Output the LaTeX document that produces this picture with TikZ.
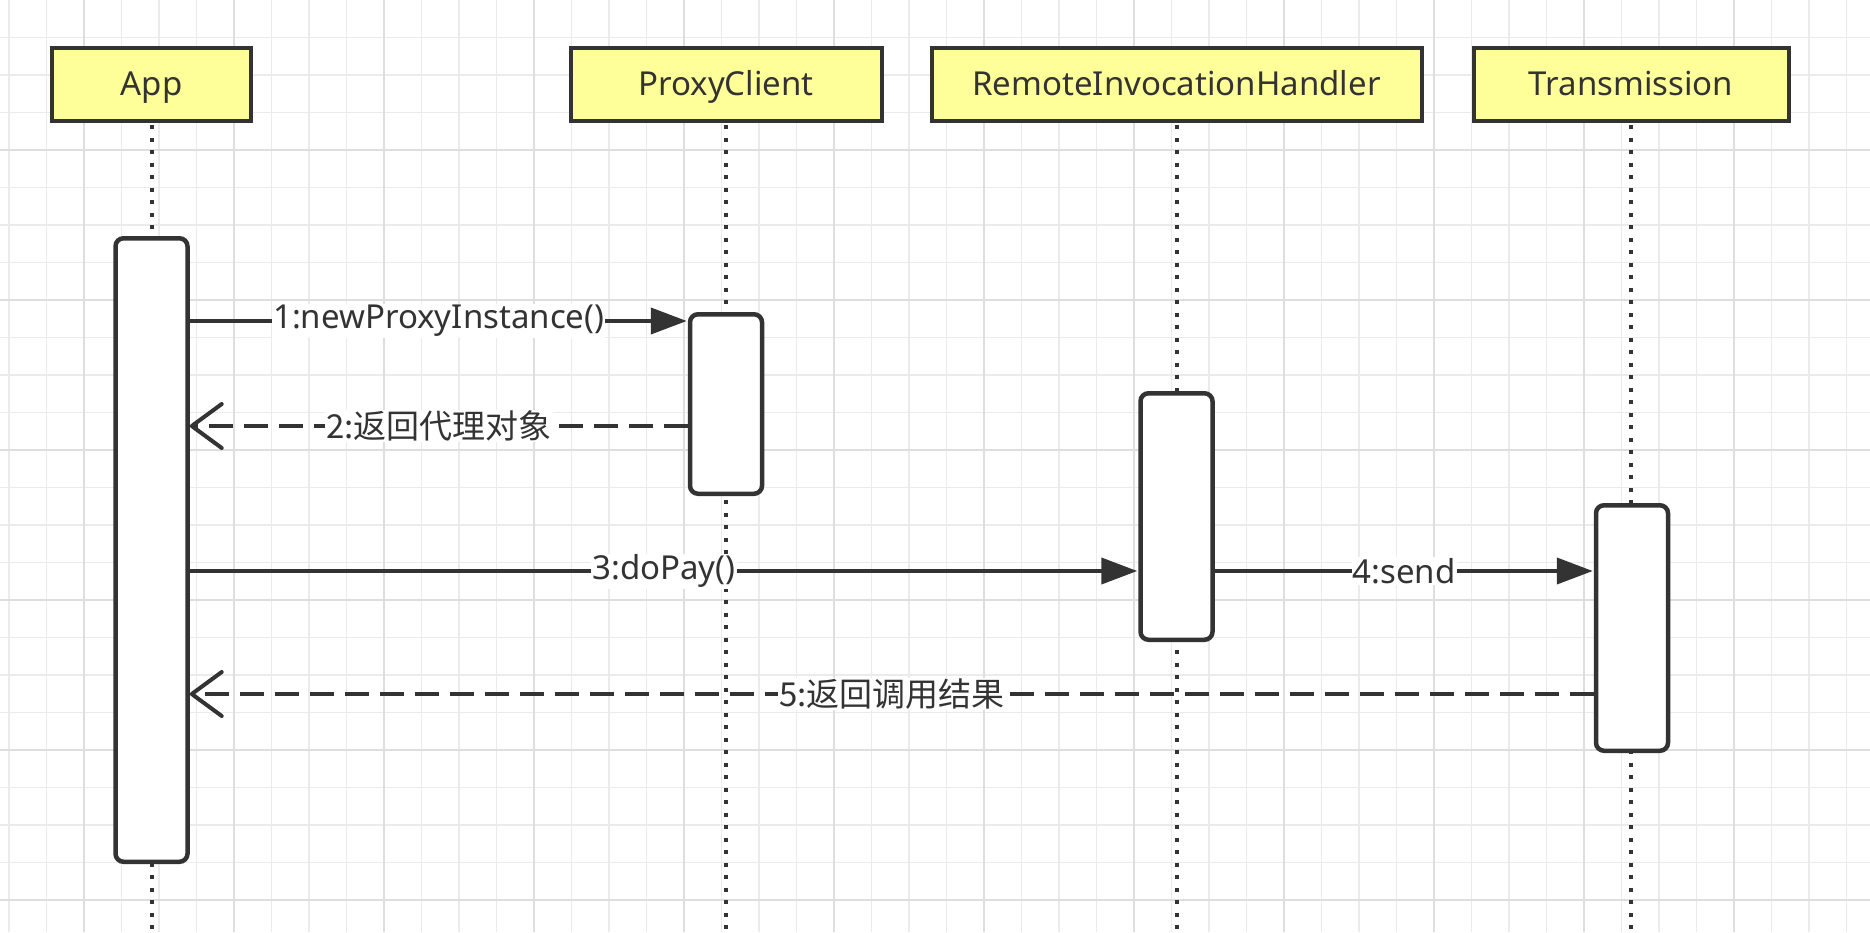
\documentclass[tikz,border=0pt]{standalone}
\usepackage{fontspec}
\setmainfont{Noto Sans}
\newfontfamily\cjk{Noto Sans CJK SC}
\usetikzlibrary{arrows.meta}
\definecolor{ink}{HTML}{333333}
\definecolor{hdr}{HTML}{FFFF99}
\definecolor{gmin}{HTML}{EBEBEB}
\definecolor{gmaj}{HTML}{DEDEDE}
\begin{document}
\begin{tikzpicture}[x=1pt,y=-1pt,
  header/.style={draw=ink, line width=4pt, fill=hdr, minimum height=73pt, inner sep=0pt, text height=25.5pt, text depth=4pt, text=ink, font=\fontsize{33}{39}\selectfont},
  act/.style={draw=ink, line width=4.5pt, fill=white, rounded corners=8pt, minimum width=72pt, inner sep=0pt},
  life/.style={draw=ink, line width=4pt, dash pattern=on 4pt off 8.5pt},
  msg/.style={draw=ink, line width=4pt, shorten >=1pt, -{Triangle[length=36pt,width=26pt]}},
  ret/.style={draw=ink, line width=4pt, dash pattern=on 24pt off 11pt, -{Straight Barb[length=30pt,width=44pt,round]}},
  lbl/.style={fill=white, text=ink, inner sep=1pt, font=\fontsize{33}{39}\selectfont},
  gridminor/.style={draw=gmin, line width=1.8pt},
  gridmajor/.style={draw=gmaj, line width=2.2pt}]
\clip (0,0) rectangle (1870,932);
\fill[white] (0,0) rectangle (1870,932);
% grid
\foreach \i in {0,...,49} \draw[gridminor] ({9+37.5*\i},0) -- ({9+37.5*\i},932);
\foreach \j in {1,...,24} \draw[gridminor] (0,{37.5*\j}) -- (1870,{37.5*\j});
\foreach \i in {0,...,11} \draw[gridmajor] ({84+150*\i},0) -- ({84+150*\i},932);
\foreach \j in {1,...,6} \draw[gridmajor] (0,{150*\j}) -- (1870,{150*\j});
% headers
\node[header, minimum width=199pt] (app) at (151.5,84.5) {App};
\node[header, minimum width=311pt] (proxy) at (726,84.5) {ProxyClient};
\node[header, minimum width=490pt] (rih) at (1176.5,84.5) {RemoteInvocationHandler};
\node[header, minimum width=315pt] (trans) at (1631,84.5) {Transmission};
% lifeline ends
\coordinate (appbot) at (151.5,932);
\coordinate (proxybot) at (726,932);
\coordinate (rihbot) at (1176.5,932);
\coordinate (transbot) at (1631,932);
\draw[life, shorten <=2pt] (app.south) -- (appbot);
\draw[life, shorten <=2pt] (proxy.south) -- (proxybot);
\draw[life, shorten <=2pt] (rih.south) -- (rihbot);
\draw[life, shorten <=2pt] (trans.south) -- (transbot);
% activations
\node[act, minimum height=623.5pt] (appact) at (151.5,550) {};
\node[act, minimum height=179.5pt] (proxyact) at (726,404) {};
\node[act, minimum height=246.5pt] (rihact) at (1176.5,516.5) {};
\node[act, minimum height=245.5pt] (transact) at (1632,628) {};
% message levels
\coordinate (y1) at (0,321);
\coordinate (y2) at (0,426);
\coordinate (y3) at (0,571);
\coordinate (y5) at (0,694);
% messages
\draw[msg] (appact.east |- y1) -- (proxyact.west |- y1) node[lbl, midway] {1:newProxyInstance()};
\draw[ret] (proxyact.west |- y2) -- (appact.east |- y2) node[lbl, midway] {\cjk 2:返回代理对象};
\draw[msg] (appact.east |- y3) -- (rihact.west |- y3) node[lbl, midway] {3:doPay()};
\draw[msg] (rihact.east |- y3) -- (transact.west |- y3) node[lbl, midway] {4:send};
\draw[ret] (transact.west |- y5) -- (appact.east |- y5) node[lbl, midway] {\cjk 5:返回调用结果};
\end{tikzpicture}
\end{document}
